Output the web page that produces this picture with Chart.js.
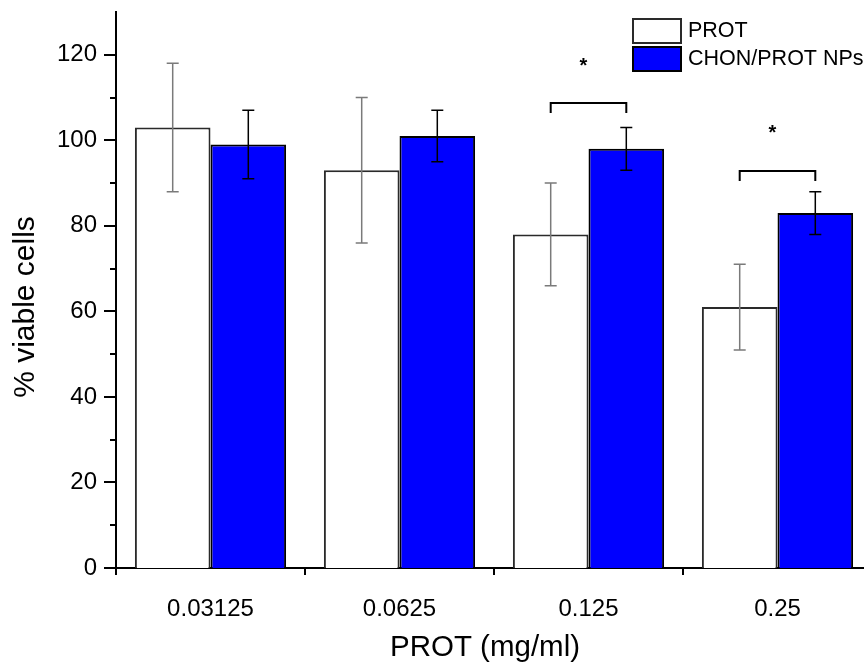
<!DOCTYPE html>
<html>
<head>
<meta charset="utf-8">
<script src="https://cdn.jsdelivr.net/npm/chart.js@4"></script>
<style>
    html, body { margin: 0; padding: 0; background: #fff; overflow: hidden; }
    canvas { display: block; }
</style>
</head>
<body>
<canvas id="chart" width="880" height="668"></canvas>
<script>
// data
const categories = ['0.03125', '0.0625', '0.125', '0.25'];
const protValues = [103, 93, 78, 61];
const protErrors = [15, 17, 12, 10];
const npValues = [99, 101, 98, 83];
const npErrors = [8, 6, 5, 5];
const yTickValues = [0, 20, 40, 60, 80, 100, 120];

// significance marks (category index, bracket height, star height)
const sigIndex = [2, 3];
const sigBracketY = [108.8, 92.8];
const sigStarY = [117.2, 101.6];

const FONT = '"Liberation Sans", Arial, sans-serif';

const errorBars = {
    id: 'errorBars',
    afterDatasetsDraw(chart) {
        const ctx = chart.ctx;
        const y = chart.scales.y;
        const sets = [
            { values: protValues, errors: protErrors, color: '#7a7a7a' },
            { values: npValues, errors: npErrors, color: '#000' }
        ];
        ctx.save();
        sets.forEach((s, di) => {
            const meta = chart.getDatasetMeta(di);
            ctx.strokeStyle = s.color;
            ctx.lineWidth = 1.5;
            meta.data.forEach((bar, i) => {
                const top = y.getPixelForValue(s.values[i] + s.errors[i]);
                const bot = y.getPixelForValue(s.values[i] - s.errors[i]);
                ctx.beginPath();
                ctx.moveTo(bar.x, top);
                ctx.lineTo(bar.x, bot);
                ctx.moveTo(bar.x - 6, top);
                ctx.lineTo(bar.x + 6, top);
                ctx.moveTo(bar.x - 6, bot);
                ctx.lineTo(bar.x + 6, bot);
                ctx.stroke();
            });
        });
        ctx.restore();
    }
};

const extras = {
    id: 'extras',
    afterDraw(chart) {
        const ctx = chart.ctx;
        const x = chart.scales.x;
        const y = chart.scales.y;
        const area = chart.chartArea;
        ctx.save();

        // y ticks, major and minor
        ctx.strokeStyle = '#000';
        ctx.lineWidth = 2;
        for (let v = 0; v <= 120; v += 10) {
            const py = Math.round(y.getPixelForValue(v));
            const len = v % 20 === 0 ? 12 : 6;
            ctx.beginPath();
            ctx.moveTo(area.left - len, py);
            ctx.lineTo(area.left, py);
            ctx.stroke();
        }
        // x ticks at category boundaries
        for (let i = 0; i <= categories.length; i++) {
            const px = Math.round(x.getPixelForValue(i - 0.5));
            ctx.beginPath();
            ctx.moveTo(px, area.bottom);
            ctx.lineTo(px, area.bottom + 7);
            ctx.stroke();
        }

        // axis titles
        ctx.fillStyle = '#000';
        ctx.font = '29.5px ' + FONT;
        ctx.textAlign = 'center';
        ctx.textBaseline = 'middle';
        ctx.fillText('PROT (mg/ml)', 485, 648);
        ctx.save();
        ctx.translate(26, 307);
        ctx.rotate(-Math.PI / 2);
        ctx.font = '30px ' + FONT;
        ctx.fillText('% viable cells', 0, 0);
        ctx.restore();

        // significance brackets
        const m0 = chart.getDatasetMeta(0);
        const m1 = chart.getDatasetMeta(1);
        ctx.lineWidth = 2;
        ctx.strokeStyle = '#000';
        sigIndex.forEach((ci, k) => {
            const x0 = m0.data[ci].x;
            const x1 = m1.data[ci].x;
            const by = Math.round(y.getPixelForValue(sigBracketY[k]));
            ctx.beginPath();
            ctx.moveTo(x0, by + 10);
            ctx.lineTo(x0, by);
            ctx.lineTo(x1, by);
            ctx.lineTo(x1, by + 10);
            ctx.stroke();
            ctx.font = 'bold 20px ' + FONT;
            ctx.fillText('*', (x0 + x1) / 2 - 5, y.getPixelForValue(sigStarY[k]));
        });

        // legend
        ctx.font = '21.5px ' + FONT;
        ctx.textAlign = 'left';
        chart.data.datasets.forEach((ds, i) => {
            const top = 19 + i * 28;
            ctx.fillStyle = ds.backgroundColor;
            ctx.fillRect(633, top, 48, 24);
            ctx.lineWidth = 2;
            ctx.strokeStyle = ds.borderColor;
            ctx.strokeRect(633, top, 48, 24);
            ctx.fillStyle = '#000';
            ctx.fillText(ds.label, 688, top + 12);
        });

        ctx.restore();
    }
};

new Chart(document.getElementById('chart'), {
    type: 'bar',
    data: {
        labels: categories,
        datasets: [
            {
                label: 'PROT',
                data: protValues,
                backgroundColor: '#ffffff',
                borderColor: '#2a2a2a',
                borderWidth: 2
            },
            {
                label: 'CHON/PROT NPs',
                data: npValues,
                backgroundColor: '#0000ff',
                borderColor: '#000000',
                borderWidth: 2
            }
        ]
    },
    options: {
        responsive: false,
        animation: false,
        devicePixelRatio: 1,
        layout: { padding: { top: 12, right: 8, left: 0, bottom: 0 } },
        datasets: {
            bar: { categoryPercentage: 0.8, barPercentage: 1 }
        },
        plugins: {
            legend: { display: false },
            tooltip: { enabled: false }
        },
        scales: {
            x: {
                grid: { display: false },
                border: { display: true, color: '#000', width: 2 },
                ticks: {
                    color: '#000',
                    font: { family: FONT, size: 24 },
                    padding: 19,
                    maxRotation: 0
                },
                afterFit(scale) {
                    scale.height = 100;
                    scale.paddingLeft = 0;
                    scale.paddingRight = 0;
                }
            },
            y: {
                min: 0,
                max: 130,
                grid: { display: false },
                border: { display: true, color: '#000', width: 2 },
                afterBuildTicks(scale) {
                    scale.ticks = yTickValues.map(v => ({ value: v }));
                },
                ticks: {
                    color: '#000',
                    font: { family: FONT, size: 24 },
                    padding: 11
                },
                afterFit(scale) {
                    scale.width = 116;
                    scale.paddingTop = 0;
                    scale.paddingBottom = 0;
                }
            }
        }
    },
    plugins: [errorBars, extras]
});
</script>
</body>
</html>
